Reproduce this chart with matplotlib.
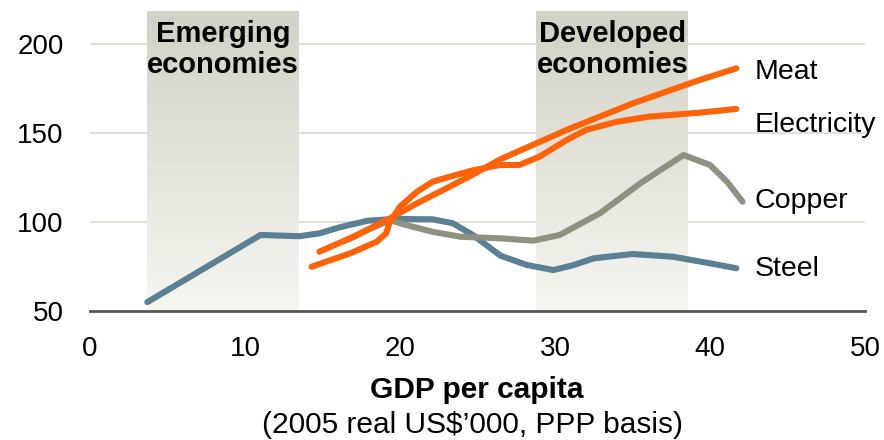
import numpy as np
import matplotlib.pyplot as plt
from matplotlib.colors import LinearSegmentedColormap

plt.rcParams['font.family'] = ['Liberation Sans', 'DejaVu Sans']

# GDP per capita (2005 real US$'000) vs index values
steel_x = [3.7, 11.0, 13.5, 14.8, 16.1, 17.9, 19.6, 22.1, 23.4, 24.7, 26.5, 28.2, 29.9, 31.2, 32.5, 35.0, 37.6, 39.8, 41.7]
steel_y = [55.0, 92.7, 92.0, 93.6, 97.0, 100.7, 101.7, 101.5, 99.3, 92.7, 81.0, 75.8, 73.0, 75.8, 79.6, 82.0, 80.5, 77.1, 74.0]

copper_x = [16.6, 17.9, 19.35, 20.4, 22.1, 23.9, 26.5, 28.6, 30.3, 32.9, 35.5, 36.8, 38.3, 40.0, 41.1, 42.1]
copper_y = [89.9, 95.5, 101.0, 98.3, 94.5, 91.7, 90.8, 89.5, 92.7, 104.9, 121.7, 129.2, 137.6, 132.0, 122.6, 111.4]

meat_x = [14.8, 17.0, 19.35, 21.1, 22.8, 24.7, 26.5, 30.75, 35.05, 39.35, 41.7]
meat_y = [83.3, 91.7, 102.0, 110.5, 118.0, 126.6, 135.3, 151.7, 166.7, 179.8, 186.3]

elec_x = [14.3, 16.8, 18.5, 19.1, 19.35, 20.0, 21.1, 22.1, 23.2, 24.7, 26.45, 27.7, 29.0, 30.75, 32.0, 34.0, 36.1, 39.35, 41.7]
elec_y = [74.9, 82.4, 88.9, 93.6, 100.2, 108.6, 117.0, 122.6, 125.4, 129.0, 132.0, 132.0, 136.7, 146.0, 151.7, 156.3, 159.2, 161.4, 163.5]

series_names = ['Meat', 'Electricity', 'Copper', 'Steel']
label_y = [180.3, 150.6, 107.9, 69.9]

bands = [(3.7, 13.5, 'Emerging\neconomies'), (28.8, 38.6, 'Developed\neconomies')]

orange = '#ff6309'
blue = '#5b7f95'
grey = '#8f9080'

fig = plt.figure(figsize=(8.84, 4.40), dpi=100)
ax = fig.add_axes([90 / 884, 1 - 311 / 440, 775 / 884, 300 / 440])
ax.set_xlim(0, 50)
ax.set_ylim(50, 218.5)

for g in [100, 150, 200]:
    ax.axhline(g, color='#d9d9ce', lw=1.2, zorder=0)

grad = np.linspace(0, 1, 256).reshape(-1, 1)
cmap = LinearSegmentedColormap.from_list('band', ['#d1d1c5', '#f6f6f1'])
for x0, x1, txt in bands:
    ax.imshow(grad, cmap=cmap, extent=(x0, x1, 50, 218.5), origin='upper',
              aspect='auto', zorder=1)
    ax.text((x0 + x1) / 2, 213.5, txt, ha='center', va='top', fontsize=21,
            fontweight='bold', linespacing=1.12, zorder=3)

lw = 4.4
kw = dict(lw=lw, solid_capstyle='round', solid_joinstyle='round')
ax.plot(steel_x, steel_y, color=blue, zorder=4, **kw)
ax.plot(copper_x, copper_y, color=grey, zorder=4, **kw)
ax.plot(elec_x, elec_y, color=orange, zorder=5, **kw)
ax.plot(meat_x, meat_y, color=orange, zorder=5, **kw)

for name, ly in zip(series_names, label_y):
    ax.text(42.9, ly, name, fontsize=20.5, va='baseline', ha='left', zorder=6)

ax.set_xticks([0, 10, 20, 30, 40, 50])
ax.set_yticks([50, 100, 150, 200])
ax.tick_params(axis='both', length=0, labelsize=20)
ax.tick_params(axis='y', pad=19)
ax.tick_params(axis='x', pad=18)
for s in ['top', 'right', 'left']:
    ax.spines[s].set_visible(False)
ax.spines['bottom'].set_color('#555555')
ax.spines['bottom'].set_linewidth(2)
ax.spines['bottom'].set_zorder(6)

fig.text(477 / 884, 1 - 390 / 440, 'GDP per capita', ha='center', va='center',
         fontsize=21.5, fontweight='bold')
fig.text(472 / 884, 1 - 425 / 440, "(2005 real US$\u2019000, PPP basis)", ha='center',
         va='center', fontsize=21.5)

fig.savefig('out.png', dpi=100)
